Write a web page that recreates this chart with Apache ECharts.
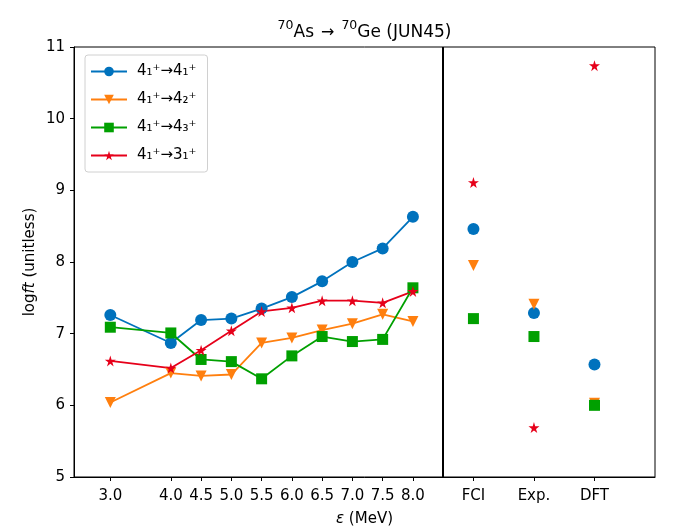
<!DOCTYPE html>
<html>
<head>
<meta charset="utf-8">
<script src="https://cdn.jsdelivr.net/npm/echarts@6/dist/echarts.min.js"></script>
<style>
  html, body { margin: 0; padding: 0; background: #fff; }
  #main { width: 698px; height: 532px; }
</style>
</head>
<body>
<div id="main"></div>
<script>
// energy cut values (MeV)
var eps = [3.0, 4.0, 4.5, 5.0, 5.5, 6.0, 6.5, 7.0, 7.5, 8.0];
// reference methods, placed at x = 9, 10, 11
var refNames = ['FCI', 'Exp.', 'DFT'];
var refPos = [9, 10, 11];

var names = ['4₁⁺→4₁⁺', '4₁⁺→4₂⁺', '4₁⁺→4₃⁺', '4₁⁺→3₁⁺'];
var colors = ['#0072bd', '#ff7f0e', '#00a000', '#e6001a'];

// log ft vs epsilon
var s41 = [7.26, 6.87, 7.19, 7.21, 7.35, 7.51, 7.73, 8.00, 8.19, 8.63];
var s42 = [6.04, 6.45, 6.41, 6.43, 6.87, 6.94, 7.05, 7.14, 7.27, 7.17];
var s43 = [7.09, 7.01, 6.64, 6.61, 6.37, 6.69, 6.96, 6.89, 6.92, 7.64];
var s31 = [6.62, 6.52, 6.77, 7.04, 7.31, 7.36, 7.46, 7.46, 7.43, 7.59];

// FCI, Exp., DFT
var r41 = [8.46, 7.29, 6.57];
var r42 = [7.95, 7.41, 6.03];
var r43 = [7.21, 6.96, 6.00];
var r31 = [9.11, 5.69, 10.74];

var xTicks = [3.0, 4.0, 4.5, 5.0, 5.5, 6.0, 6.5, 7.0, 7.5, 8.0, 9, 10, 11];

var star = 'path://M50,0 L61,35 L98,35 L68,57 L79,91 L50,70 L21,91 L32,57 L2,35 L39,35 Z';
var symbols = ['circle', 'triangle', 'rect', star];
var rotates = [0, 180, 0, 0];
var sizes = [12, 11, 11, 11];

var lineData = [s41, s42, s43, s31];
var refData = [r41, r42, r43, r31];

function pairs(xs, ys) {
  var out = [];
  for (var i = 0; i < xs.length; i++) out.push([xs[i], ys[i]]);
  return out;
}

var series = [];
for (var k = 0; k < 4; k++) {
  series.push({
    name: names[k],
    type: 'line',
    data: pairs(eps, lineData[k]),
    symbol: symbols[k],
    symbolRotate: rotates[k],
    symbolSize: sizes[k],
    showAllSymbol: true,
    color: colors[k],
    lineStyle: { width: 1.8 },
    itemStyle: { color: colors[k] },
    animation: false,
    z: 3
  });
}
for (var k = 0; k < 4; k++) {
  series.push({
    name: 'ref' + k,
    type: 'scatter',
    data: pairs(refPos, refData[k]),
    symbol: symbols[k],
    symbolRotate: rotates[k],
    symbolSize: sizes[k],
    itemStyle: { color: colors[k], opacity: 1 },
    animation: false,
    z: 3
  });
}
// divider between the epsilon scan and the reference values
series[0].markLine = {
  silent: true,
  symbol: 'none',
  label: { show: false },
  lineStyle: { color: '#000', width: 2, type: 'solid' },
  data: [{ xAxis: 8.5 }]
};

var font = 'DejaVu Sans';
var chart = echarts.init(document.getElementById('main'));
chart.setOption({
  backgroundColor: '#fff',
  animation: false,
  textStyle: { fontFamily: font },
  grid: {
    left: 74, right: 43, top: 47, bottom: 55,
    show: true, borderColor: '#000', borderWidth: 1
  },
  graphic: [{
    type: 'text',
    x: 364.5, y: 19,
    style: {
      text: '{s|70}{n|As}{a|→}{s|70}{n|Ge (JUN45)}',
      textAlign: 'center',
      fill: '#000',
      rich: {
        n: { fontFamily: font, fontSize: 17, color: '#000', lineHeight: 22, verticalAlign: 'bottom' },
        a: { fontFamily: font, fontSize: 16, color: '#000', lineHeight: 22, verticalAlign: 'bottom', padding: [0, 7, 0, 7] },
        s: { fontFamily: font, fontSize: 12.5, color: '#000', lineHeight: 22, verticalAlign: 'top' }
      }
    }
  }],
  legend: {
    data: names,
    orient: 'vertical',
    left: 85, top: 55,
    itemWidth: 36, itemHeight: 12,
    itemGap: 13,
    padding: [9, 11, 9, 5],
    borderColor: '#d0d0d0',
    borderWidth: 1,
    borderRadius: 3,
    backgroundColor: 'rgba(255,255,255,0.8)',
    textStyle: { fontFamily: font, fontSize: 15, color: '#000', padding: [0, 0, 0, 5] }
  },
  xAxis: {
    type: 'value',
    min: 2.4, max: 12,
    name: '{i|ε}{n| (MeV)}',
    nameLocation: 'middle',
    nameGap: 35,
    nameTextStyle: {
      rich: {
        i: { fontFamily: font, fontStyle: 'italic', fontSize: 15, color: '#000' },
        n: { fontFamily: font, fontSize: 15, color: '#000' }
      }
    },
    axisLine: { lineStyle: { color: '#000' } },
    axisTick: { show: true, inside: false, length: 4, customValues: xTicks, lineStyle: { color: '#000' } },
    axisLabel: {
      customValues: xTicks,
      color: '#000', fontSize: 15, margin: 12,
      formatter: function (v) {
        var i = refPos.indexOf(v);
        return i >= 0 ? refNames[i] : v.toFixed(1);
      }
    },
    splitLine: { show: false }
  },
  yAxis: {
    type: 'value',
    min: 5, max: 11, interval: 1,
    name: '{n|log}{i|ft}{n| (unitless)}',
    nameLocation: 'middle',
    nameGap: 36,
    nameMoveOverlap: false,
    nameRotate: 90,
    nameTextStyle: {
      rich: {
        i: { fontFamily: font, fontStyle: 'italic', fontSize: 15, color: '#000' },
        n: { fontFamily: font, fontSize: 15, color: '#000' }
      }
    },
    axisLine: { show: true, lineStyle: { color: '#000' } },
    axisTick: { show: true, inside: false, length: 4, lineStyle: { color: '#000' } },
    axisLabel: { color: '#000', fontSize: 15, margin: 9 },
    splitLine: { show: false }
  },
  series: series
});
</script>
</body>
</html>
